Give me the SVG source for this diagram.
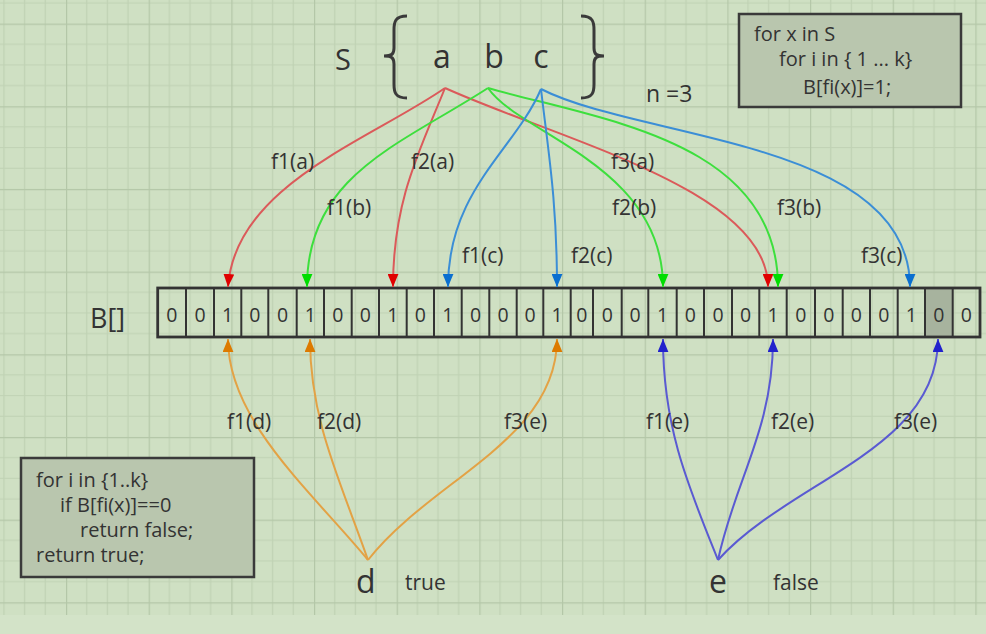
<svg xmlns="http://www.w3.org/2000/svg" width="986" height="634" viewBox="0 0 986 634">
<defs>
<pattern id="grid" patternUnits="userSpaceOnUse" x="66" y="23.6" width="82.67" height="82.67">
<rect width="82.67" height="82.67" fill="#cfe0c3"/>
<path d="M20.67,0V82.67M41.33,0V82.67M62,0V82.67M0,20.67H82.67M0,41.33H82.67M0,62H82.67" stroke="#c0d2b4" stroke-width="1.2" fill="none"/>
<path d="M0.5,0V82.67M0,0.5H82.67" stroke="#b4c7a8" stroke-width="1.4" fill="none"/>
</pattern>
<marker id="mRed" viewBox="0 0 12 10" refX="12" refY="5" markerWidth="13" markerHeight="11" markerUnits="userSpaceOnUse" orient="auto"><path d="M0,0L12,5L0,10z" fill="#e00000"/></marker>
<marker id="mGreen" viewBox="0 0 12 10" refX="12" refY="5" markerWidth="13" markerHeight="11" markerUnits="userSpaceOnUse" orient="auto"><path d="M0,0L12,5L0,10z" fill="#00dd00"/></marker>
<marker id="mBlue" viewBox="0 0 12 10" refX="12" refY="5" markerWidth="13" markerHeight="11" markerUnits="userSpaceOnUse" orient="auto"><path d="M0,0L12,5L0,10z" fill="#0a6fd0"/></marker>
<marker id="mOrange" viewBox="0 0 12 10" refX="12" refY="5" markerWidth="13" markerHeight="11" markerUnits="userSpaceOnUse" orient="auto"><path d="M0,0L12,5L0,10z" fill="#dd7a00"/></marker>
<marker id="mPurple" viewBox="0 0 12 10" refX="12" refY="5" markerWidth="13" markerHeight="11" markerUnits="userSpaceOnUse" orient="auto"><path d="M0,0L12,5L0,10z" fill="#2222cc"/></marker>
</defs>
<style>
text{font-family:"Open Sans","Noto Sans","Liberation Sans",sans-serif;fill:#333}
.lbl{font-size:21px}
.code{font-size:20px}
.dig{font-size:19.5px;text-anchor:middle}
.c{fill:none;stroke-width:2}
.red{stroke:#db5a5a;marker-end:url(#mRed)}
.green{stroke:#3ddf3d;marker-end:url(#mGreen)}
.blue{stroke:#3b8ed6;marker-end:url(#mBlue)}
.orange{stroke:#e3a245;marker-end:url(#mOrange)}
.purple{stroke:#5a5ad2;marker-end:url(#mPurple)}
.box{fill:#b9c6ae;stroke:#3a3a3a;stroke-width:2.5}
</style>
<rect width="986" height="634" fill="#d3e3c8"/>
<rect width="986" height="615" fill="url(#grid)"/>

<g id="set">
<text x="335" y="70" font-size="29">S</text>
<path d="M407,16 C395,16 394,22 394,30 L394,48 C394,54 392,56 384,56 C392,56 394,58 394,64 L394,84 C394,92 395,98 407,98" fill="none" stroke="#3a3a3a" stroke-width="3"/>
<path d="M581,16 C593,16 594,22 594,30 L594,48 C594,54 596,56 604,56 C596,56 594,58 594,64 L594,84 C594,92 593,98 581,98" fill="none" stroke="#3a3a3a" stroke-width="3"/>
</g>
<g id="node-a"><text x="442" y="68" font-size="32" text-anchor="middle">a</text></g>
<g id="node-b"><text x="494" y="68" font-size="32" text-anchor="middle">b</text></g>
<g id="node-c"><text x="541" y="68" font-size="32" text-anchor="middle">c</text></g>
<g id="n-label"><text x="646" y="102" font-size="23">n =3</text></g>

<g id="insert-box">
<rect class="box" x="739" y="14" width="222" height="93"/>
<text class="code" x="754" y="41">for x in S</text>
<text class="code" x="779" y="66">for i in { 1 ... k}</text>
<text class="code" x="803" y="94">B[fi(x)]=1;</text>
</g>

<g id="query-box">
<rect class="box" x="21" y="458" width="233" height="119"/>
<text class="code" x="36" y="487">for i in {1..k}</text>
<text class="code" x="60" y="512">if B[fi(x)]==0</text>
<text class="code" x="80" y="537">return false;</text>
<text class="code" x="36" y="562">return true;</text>
</g>

<g id="array">
<text x="90" y="328" font-size="27">B[]</text>
<rect x="925" y="288" width="27.7" height="49" fill="#a7b39e"/>
<rect x="157.7" y="288" width="822.3" height="49" fill="none" stroke="#333" stroke-width="2.8"/>
<path d="M186,288V337M214,288V337M241.3,288V337M268.3,288V337M296.7,288V337M324,288V337M351.7,288V337M379,288V337M406.7,288V337M434,288V337M461.7,288V337M489.3,288V337M516.7,288V337M543.3,288V337M570.7,288V337M593,288V337M621.7,288V337M648.3,288V337M676.7,288V337M704,288V337M732,288V337M759.3,288V337M786.7,288V337M815,288V337M842.7,288V337M870,288V337M897.7,288V337M925,288V337M952.7,288V337" stroke="#333" stroke-width="2"/>
<g class="dig">
<text class="dig" x="171.9" y="322">0</text>
<text class="dig" x="200" y="322">0</text>
<text class="dig" x="227.7" y="322">1</text>
<text class="dig" x="254.8" y="322">0</text>
<text class="dig" x="282.5" y="322">0</text>
<text class="dig" x="310.4" y="322">1</text>
<text class="dig" x="337.9" y="322">0</text>
<text class="dig" x="365.4" y="322">0</text>
<text class="dig" x="392.9" y="322">1</text>
<text class="dig" x="420.4" y="322">0</text>
<text class="dig" x="447.9" y="322">1</text>
<text class="dig" x="475.5" y="322">0</text>
<text class="dig" x="503" y="322">0</text>
<text class="dig" x="530" y="322">0</text>
<text class="dig" x="557" y="322">1</text>
<text class="dig" x="581.9" y="322">0</text>
<text class="dig" x="607.4" y="322">0</text>
<text class="dig" x="635" y="322">0</text>
<text class="dig" x="662.5" y="322">1</text>
<text class="dig" x="690.4" y="322">0</text>
<text class="dig" x="718" y="322">0</text>
<text class="dig" x="745.7" y="322">0</text>
<text class="dig" x="773" y="322">1</text>
<text class="dig" x="800.9" y="322">0</text>
<text class="dig" x="828.9" y="322">0</text>
<text class="dig" x="856.4" y="322">0</text>
<text class="dig" x="883.9" y="322">0</text>
<text class="dig" x="911.4" y="322">1</text>
<text class="dig" x="938.9" y="322">0</text>
<text class="dig" x="966.4" y="322">0</text>
</g>
</g>

<g id="node-d"><text x="356" y="593" font-size="32">d</text><text x="405" y="590" font-size="21">true</text></g>
<g id="node-e"><text x="709" y="593" font-size="32">e</text><text x="773" y="590" font-size="21">false</text></g>

<g id="connectors">
<path class="c red" d="M445,88 C370,140 235,185 228,287"/>
<path class="c red" d="M445,88 C420,150 393,200 393,287"/>
<path class="c red" d="M445,88 C560,140 768,190 768,287"/>
<path class="c green" d="M488,88 C400,145 307,175 307,287"/>
<path class="c green" d="M488,88 C520,135 663,165 663,287"/>
<path class="c green" d="M488,88 C600,120 778,140 778,287"/>
<path class="c blue" d="M541,89 C515,150 448,190 448,287"/>
<path class="c blue" d="M541,89 C548,150 557,200 557,287"/>
<path class="c blue" d="M541,89 C640,140 910,140 910,287"/>
<path class="c orange" d="M368,560 C310,490 228,420 228,339"/>
<path class="c orange" d="M368,560 C340,480 310,420 310,339"/>
<path class="c orange" d="M368,560 C430,480 557,440 557,339"/>
<path class="c purple" d="M718,560 C690,490 663,430 663,339"/>
<path class="c purple" d="M718,560 C735,480 773,430 773,339"/>
<path class="c purple" d="M718,560 C790,480 938,450 938,339"/>
</g>

<g id="labels" class="lbl">
<text class="lbl" x="271" y="169">f1(a)</text>
<text class="lbl" x="411" y="169">f2(a)</text>
<text class="lbl" x="611" y="169">f3(a)</text>
<text class="lbl" x="327" y="215">f1(b)</text>
<text class="lbl" x="612" y="215">f2(b)</text>
<text class="lbl" x="777" y="215">f3(b)</text>
<text class="lbl" x="462" y="263">f1(c)</text>
<text class="lbl" x="571" y="263">f2(c)</text>
<text class="lbl" x="861" y="263">f3(c)</text>
<text class="lbl" x="227" y="429">f1(d)</text>
<text class="lbl" x="317" y="429">f2(d)</text>
<text class="lbl" x="504" y="429">f3(e)</text>
<text class="lbl" x="646" y="429">f1(e)</text>
<text class="lbl" x="771" y="429">f2(e)</text>
<text class="lbl" x="894" y="429">f3(e)</text>
</g>
</svg>
